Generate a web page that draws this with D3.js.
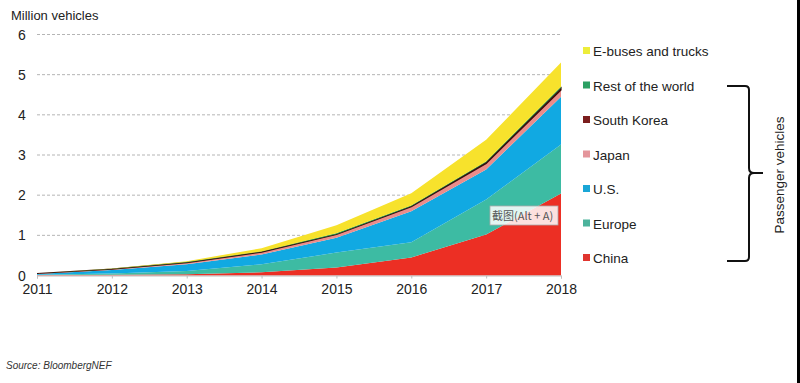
<!DOCTYPE html>
<html><head><meta charset="utf-8">
<script src="https://cdn.jsdelivr.net/npm/d3@7"></script>
<style>body{margin:0;background:#fff;font-family:Arial,"Liberation Sans",sans-serif;}</style>
</head><body><svg id="c" width="800" height="383"></svg>
<script>
const years = [2011, 2012, 2013, 2014, 2015, 2016, 2017, 2018];
const seriesNames = ["China", "Europe", "U.S.", "Japan", "South Korea", "Rest of the world", "E-buses and trucks"];
const china      = [0.01, 0.02, 0.03, 0.08, 0.20, 0.45, 1.02, 2.04];
const europe     = [0.01, 0.03, 0.08, 0.20, 0.37, 0.38, 0.87, 1.22];
const us         = [0.02, 0.09, 0.17, 0.24, 0.37, 0.77, 0.75, 1.19];
const japan      = [0.01, 0.02, 0.04, 0.06, 0.08, 0.11, 0.15, 0.17];
const southKorea = [0.00, 0.00, 0.005, 0.01, 0.01, 0.015, 0.03, 0.05];
const restWorld  = [0.00, 0.005, 0.01, 0.01, 0.02, 0.02, 0.02, 0.03];
const eBuses     = [0.00, 0.01, 0.02, 0.08, 0.20, 0.30, 0.54, 0.60];
const yTicks = [0, 1, 2, 3, 4, 5, 6];
const legendOrder = ["E-buses and trucks", "Rest of the world", "South Korea", "Japan", "U.S.", "Europe", "China"];

const colors = {
  "China": "#ec2f24",
  "Europe": "#3dbba3",
  "U.S.": "#11a9e2",
  "Japan": "#eb8c8a",
  "South Korea": "#5a1512",
  "Rest of the world": "#21a35c",
  "E-buses and trucks": "#f7e22c"
};
const legendColors = Object.assign({}, colors, {"E-buses and trucks": "#eded3a", "Rest of the world": "#2ba063", "South Korea": "#7b1e1e", "Japan": "#e4959b", "U.S.": "#1aa6d6", "Europe": "#4cb39c", "China": "#e0352f"});

const valuesBySeries = [china, europe, us, japan, southKorea, restWorld, eBuses];
const table = years.map((y, i) => {
  const row = {year: y};
  seriesNames.forEach((s, k) => row[s] = valuesBySeries[k][i]);
  return row;
});

const svg = d3.select("#c");
const x = d3.scaleLinear().domain([2011, 2018]).range([37, 561]);
const y = d3.scaleLinear().domain([0, 6]).range([275.5, 34.5]);

// gridlines
svg.append("g").selectAll("line").data(yTicks.filter(d => d > 0)).join("line")
  .attr("x1", 37).attr("x2", 561)
  .attr("y1", d => y(d)).attr("y2", d => y(d))
  .attr("stroke", "#b5b5b5").attr("stroke-width", 1).attr("stroke-dasharray", "3,2");

// stacked areas
const stack = d3.stack().keys(seriesNames);
const layers = stack(table);
const area = d3.area().x(d => x(d.data.year)).y0(d => y(d[0])).y1(d => y(d[1]));
svg.append("g").selectAll("path").data(layers).join("path")
  .attr("d", area)
  .attr("fill", d => colors[d.key])
  .attr("stroke", d => d.key === "South Korea" ? "#3a0d0a" : "none")
  .attr("stroke-width", d => d.key === "South Korea" ? 1.2 : 0);

// y axis labels
svg.append("g").selectAll("text").data(yTicks).join("text")
  .attr("x", 22).attr("y", d => y(d) + 5)
  .attr("text-anchor", "middle")
  .attr("font-size", 14).attr("fill", "#222")
  .text(d => d);

// x axis
const xAxis = d3.axisBottom(x).tickValues(years).tickFormat(d3.format("d")).tickSize(3).tickPadding(6);
const gx = svg.append("g").attr("transform", "translate(0,275.5)").call(xAxis);
gx.select(".domain").attr("stroke", "#bdbdbd");
gx.selectAll(".tick line").attr("stroke", "#bdbdbd");
gx.selectAll(".tick text").attr("font-size", 14).attr("fill", "#222").attr("font-family", "Arial, Liberation Sans, sans-serif");

// axis title
svg.append("text").attr("x", 11).attr("y", 20).attr("font-size", 13).attr("fill", "#222").text("Million vehicles");

// source
svg.append("text").attr("x", 6).attr("y", 369).attr("font-size", 10).attr("font-style", "italic").attr("fill", "#333").text("Source: BloombergNEF");

// legend
const lg = svg.append("g");
const rowY = d3.scalePoint().domain(legendOrder).range([51, 258]);
legendOrder.forEach(name => {
  lg.append("rect").attr("x", 583).attr("y", rowY(name) - 4).attr("width", 7).attr("height", 7).attr("fill", legendColors[name]);
  lg.append("text").attr("x", 593).attr("y", rowY(name) + 5).attr("font-size", 13.5).attr("fill", "#222").text(name);
});

// bracket
svg.append("path")
  .attr("d", "M727,86 L745,86 Q749,86 749,90 L749,168 Q749,173 754,173 L763,173 M754,173 Q749,173 749,178 L749,257 Q749,261 745,261 L727,261")
  .attr("fill", "none").attr("stroke", "#111").attr("stroke-width", 2);
svg.append("text").attr("transform", "translate(784,175) rotate(-90)")
  .attr("text-anchor", "middle").attr("font-size", 13.5).attr("fill", "#222").text("Passenger vehicles");

// screenshot tooltip artifact
const tip = svg.append("g");
tip.append("rect").attr("x", 490).attr("y", 206).attr("width", 68).attr("height", 19).attr("fill", "#fff").attr("fill-opacity", 0.85).attr("stroke", "#aaa").attr("stroke-width", 0.8);
tip.append("text").attr("x", 492).attr("y", 219.5).attr("font-size", 11).attr("fill", "#555").attr("font-family", "Noto Sans CJK SC, sans-serif").text("截图(Alt + A)");

// right black edge
svg.append("rect").attr("x", 797).attr("y", 0).attr("width", 3).attr("height", 383).attr("fill", "#000");
</script></body></html>
